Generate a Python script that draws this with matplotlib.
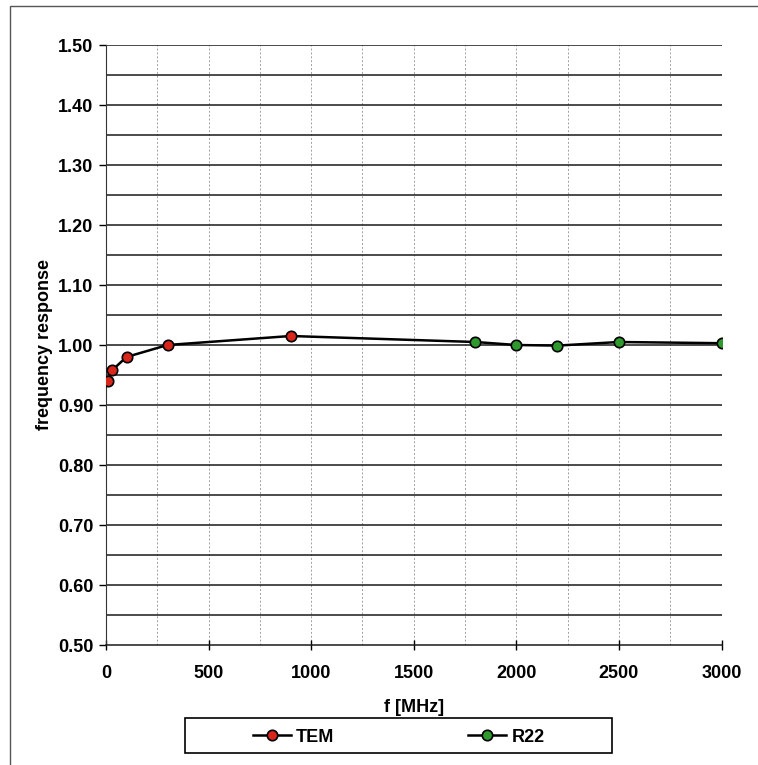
#!/usr/bin/env python3
"""Frequency response of TEM cell and R22 measurements (scanned Excel chart)."""

import matplotlib

matplotlib.use("Agg")
import matplotlib.pyplot as plt
from matplotlib.lines import Line2D
from matplotlib.patches import Rectangle
import numpy as np

# Data.
tem_f = [10, 30, 100, 300, 900]
tem_resp = [0.94, 0.958, 0.98, 1.000, 1.015]
r22_f = [1800, 2000, 2200, 2500, 3000]
r22_resp = [1.005, 1.000, 0.999, 1.005, 1.003]

x_ticks = [0, 500, 1000, 1500, 2000, 2500, 3000]
y_ticks = [0.50, 0.60, 0.70, 0.80, 0.90, 1.00, 1.10, 1.20, 1.30, 1.40, 1.50]


def main() -> None:
    plt.rcParams["font.family"] = ["Liberation Sans", "DejaVu Sans"]
    plt.rcParams["font.weight"] = "bold"

    W, H = 758, 765
    fs = 13
    fig = plt.figure(figsize=(W / 100, H / 100), dpi=100)
    ax = fig.add_axes([106 / W, 1 - 645 / H, (721.5 - 106) / W, 600 / H])

    # Outer chart frame (only top and left edges visible in the scan).
    fig.patches.append(
        Rectangle((10 / W, -0.05), 1.2, 1 - 6 / H + 0.05, transform=fig.transFigure,
                  fill=False, edgecolor="#555555", linewidth=1.0)
    )

    # Grid: light dashed verticals every 250, dark horizontals every 0.05.
    for xv in np.arange(250, 3001, 250):
        ax.axvline(xv, color="#a0a0a0", linestyle=(0, (2, 2)), linewidth=0.7, zorder=1)
    for yv in np.arange(0.55, 1.501, 0.05):
        ax.axhline(yv, color="#1a1a1a", linewidth=1.1, zorder=1)

    line_kw = dict(color="black", linewidth=1.8, zorder=3)
    ax.plot(tem_f, tem_resp, **line_kw)
    ax.plot([tem_f[-1], r22_f[0]], [tem_resp[-1], r22_resp[0]], **line_kw)
    ax.plot(r22_f, r22_resp, **line_kw)

    mk = dict(linestyle="none", marker="o", markersize=7.5,
              markeredgecolor="black", markeredgewidth=1.2, zorder=4)
    ax.plot(tem_f, tem_resp, markerfacecolor="#d8261a", **mk)
    ax.plot(r22_f, r22_resp, markerfacecolor="#2e9a2e", **mk)

    ax.set_xlim(0, 3000)
    ax.set_ylim(0.5, 1.5)
    ax.set_xticks(x_ticks)
    ax.set_yticks(y_ticks)
    ax.set_yticklabels([f"{v:.2f}" for v in y_ticks])
    ax.tick_params(axis="y", direction="out", length=5, width=1, labelsize=fs, pad=4)
    ax.tick_params(axis="x", direction="inout", length=7, width=1, labelsize=fs, pad=11)

    for side in ("top", "right"):
        ax.spines[side].set_visible(False)
    ax.spines["left"].set_color("#333333")
    ax.spines["bottom"].set_color("#1a1a1a")
    ax.spines["bottom"].set_linewidth(1.1)

    ax.set_xlabel("f [MHz]", fontsize=fs, fontweight="bold", labelpad=12)
    ax.set_ylabel("frequency response", fontsize=fs, fontweight="bold", labelpad=4)

    # Legend in a square box below the plot.
    fig.patches.append(
        Rectangle((185 / W, 1 - 753 / H), 427 / W, 35 / H, transform=fig.transFigure,
                  fill=False, edgecolor="black", linewidth=1.2)
    )
    handles = [
        Line2D([], [], color="black", linewidth=1.8, marker="o", markersize=7.5,
               markerfacecolor="#d8261a", markeredgecolor="black", markeredgewidth=1.2),
        Line2D([], [], color="black", linewidth=1.8, marker="o", markersize=7.5,
               markerfacecolor="#2e9a2e", markeredgecolor="black", markeredgewidth=1.2),
    ]
    fig.legend(handles, ["TEM", "R22"], loc="center", ncol=2,
               bbox_to_anchor=(398.5 / W, 1 - 737 / H), frameon=False,
               fontsize=fs, handlelength=2.1, handletextpad=0.3, columnspacing=7.4)

    fig.savefig("out.png", dpi=100)
    plt.close(fig)


if __name__ == "__main__":
    main()
